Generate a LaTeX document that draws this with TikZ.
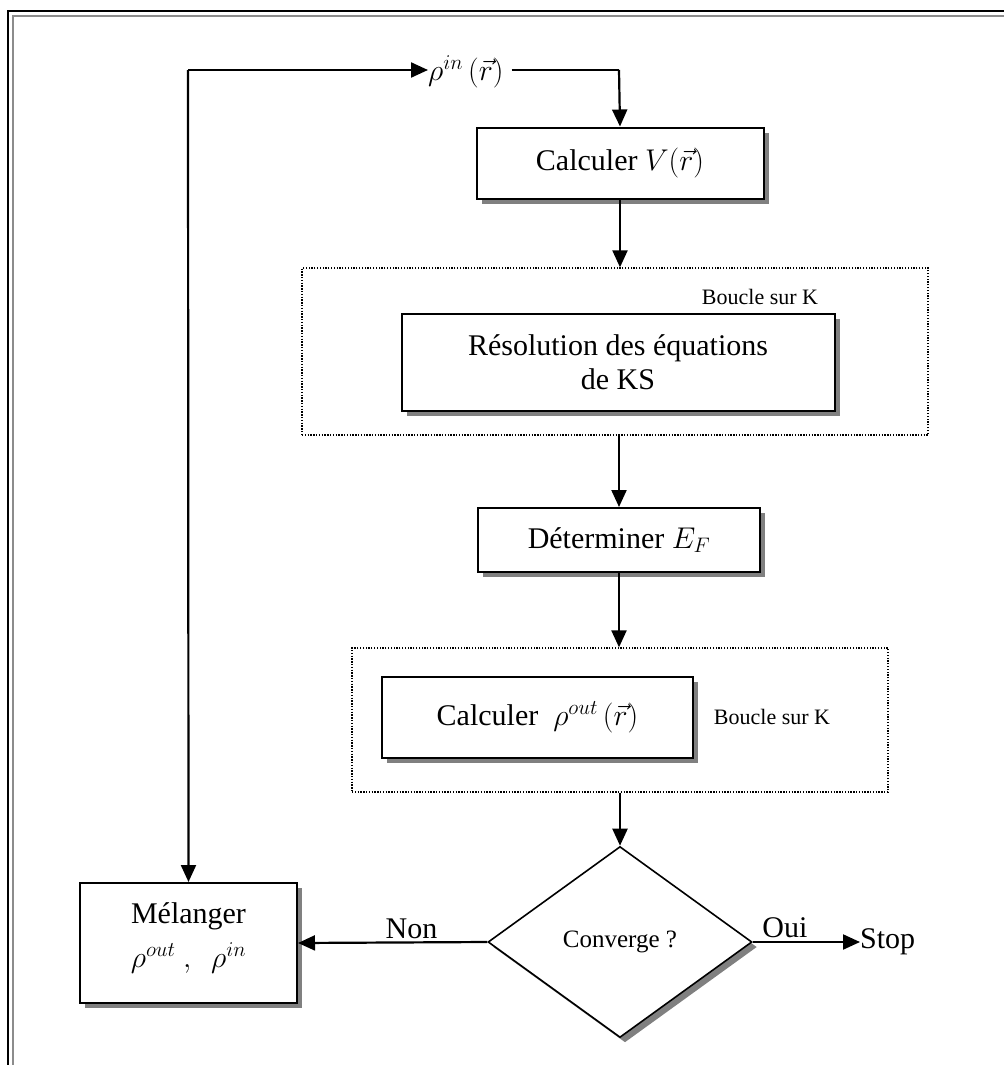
\documentclass[tikz,border=0pt]{standalone}
\usepackage{fix-cm}
\usepackage{fontspec}
\setmainfont{Liberation Serif}
\usetikzlibrary{arrows.meta,shapes.geometric,shadows}
\begin{document}
\begin{tikzpicture}[x=1pt,y=-1pt,
  shad/.style={drop shadow={shadow xshift=5pt,shadow yshift=-5pt,fill=black!50,opacity=1}},
  box/.style={draw,line width=2pt,fill=white,shad,inner sep=0pt,align=center,font=\fontsize{30}{34}\selectfont},
  loopbox/.style={draw,line width=1.3pt,dash pattern=on 1.3pt off 1.5pt,inner sep=0pt},
  lbl/.style={inner sep=0pt,font=\fontsize{30}{34}\selectfont},
  small/.style={inner sep=0pt,font=\fontsize{22}{26}\selectfont},
  arr/.style={line width=2.2pt,-{Triangle[length=17pt,width=15pt]}},
  ln/.style={line width=2.2pt}]
\useasboundingbox (0,0) rectangle (1004,1065);
% frame
\draw[line width=2.4pt,black] (8,1065) -- (8,11) -- (1004,11);
\draw[line width=2pt,black!45] (13,1065) -- (13,16) -- (1004,16);
% nodes
\node[lbl,anchor=west] (rhoin) at (428,72) {$\rho^{in}\,(\vec r)$};
\coordinate (corner) at (188,70);
\coordinate (rturn) at (619,70);
\node[box,minimum width=287pt,minimum height=71pt] (calcV) at (620,163) {Calculer $V(\vec r)$};
\node[loopbox,minimum width=626pt,minimum height=167pt] (loopA) at (615,351.5) {};
\node[small] (bA) at (760,297) {Boucle sur K};
\node[box,minimum width=433pt,minimum height=97pt] (res) at (618,362) {Résolution des équations\\de KS};
\node[box,minimum width=282pt,minimum height=64pt] (det) at (619,540) {Déterminer $E_F$};
\node[loopbox,minimum width=536pt,minimum height=144pt] (loopB) at (620,720) {};
\node[box,minimum width=311pt,minimum height=81pt] (crho) at (537.5,717.5) {Calculer\ \ $\rho^{out}\,(\vec r)$};
\node[small] (bB) at (772,717) {Boucle sur K};
\node[diamond,draw,line width=1.6pt,fill=white,shad,minimum width=264pt,minimum height=191pt,inner sep=0pt,aspect=1.38,font=\fontsize{25}{28}\selectfont] (conv) at (620,942) {Converge ?};
\node[box,minimum width=217pt,minimum height=120pt] (mel) at (188.5,943) {Mélanger\\[10pt]$\rho^{out}\ ,\ \ \rho^{in}$\\[-18pt]\mbox{}};
\node[lbl,anchor=west] (stop) at (860,942) {Stop};
% connectors
\draw[arr] (corner) -- (rhoin.west |- corner);
\draw[arr] (corner) -- (mel.north);
\draw[ln] ([xshift=8pt]rhoin.east |- corner) -- (rturn);
\draw[arr] (rturn) -- (calcV.north);
\draw[arr] (calcV.south) -- (calcV.south |- loopA.north);
\draw[arr] (loopA.south -| det.north) -- (det.north);
\draw[arr] (det.south) -- (det.south |- loopB.north);
\draw[arr] (loopB.south) -- (conv.north);
\draw[arr] (conv.east) -- node[lbl,above=3pt,pos=0.3] {Oui} (stop.west);
\draw[arr] (conv.west) -- node[lbl,above=3pt,pos=0.4] {Non} (mel.east);
\end{tikzpicture}
\end{document}
